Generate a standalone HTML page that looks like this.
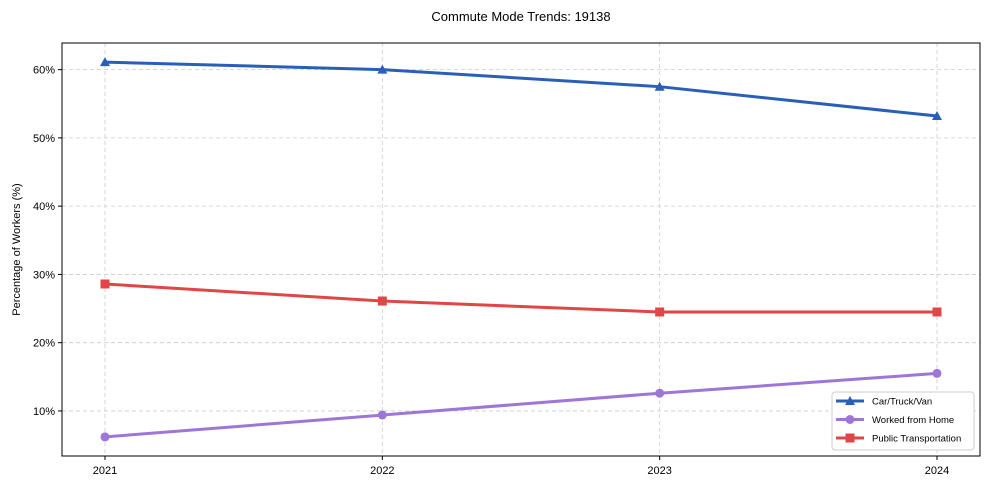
<!DOCTYPE html>
<html><head><meta charset="utf-8"><style>
body{margin:0;background:#fff;}
svg{display:block;font-family:"Liberation Sans",Arial,sans-serif;}
</style></head><body>
<svg id="chart" width="990" height="490"></svg>
<script>
const years=["2021","2022","2023","2024"];
const carVals=[61.1,60.0,57.5,53.2];
const wfhVals=[6.2,9.4,12.6,15.5];
const ptVals=[28.6,26.1,24.5,24.5];
const yTicks=[10,20,30,40,50,60];
const seriesNames=["Car/Truck/Van","Worked from Home","Public Transportation"];

const NS="http://www.w3.org/2000/svg";
const svg=document.getElementById('chart');
const L=62,R=980,T=43,B=456;
const yMin=3.4,yMax=63.9;
const xPos=i=>105+i*(937-105)/(years.length-1);
const yPos=v=>B-(v-yMin)/(yMax-yMin)*(B-T);
function mk(tag,attrs,parent){const e=document.createElementNS(NS,tag);for(const k in attrs)e.setAttribute(k,attrs[k]);(parent||svg).appendChild(e);return e;}

const title=mk('text',{x:521,y:21,'text-anchor':'middle','font-size':13,fill:'#000'});
title.textContent="Commute Mode Trends: 19138";



const grid=mk('g',{});


yTicks.forEach(t=>{
  const y=yPos(t);
  mk('line',{x1:L,x2:R,y1:y,y2:y,stroke:'#ccc','stroke-dasharray':'4,3','stroke-width':0.8},grid);
  mk('line',{x1:L-4,x2:L,y1:y,y2:y,stroke:'#000'},grid);
  const tx=mk('text',{x:L-7,y:y+4,'text-anchor':'end','font-size':11},grid);
  tx.textContent=t+'%';
  
  
});
years.forEach((yr,i)=>{
  const x=xPos(i);
  mk('line',{x1:x,x2:x,y1:T,y2:B,stroke:'#ccc','stroke-dasharray':'4,3','stroke-width':0.8},grid);
  mk('line',{x1:x,x2:x,y1:B,y2:B+4,stroke:'#000'},grid);
  const tx=mk('text',{x:x,y:B+18,'text-anchor':'middle','font-size':11},grid);
  tx.textContent=yr;
  
  
});
const frame=mk('rect',{x:L,y:T,width:R-L,height:B-T,fill:'none',stroke:'#000','stroke-width':1});


const yl=mk('text',{x:20,y:(T+B)/2,'text-anchor':'middle','font-size':11,transform:`rotate(-90 20 ${(T+B)/2})`});
yl.textContent="Percentage of Workers (%)";



function marker(type,x,y,color,parent){
  if(type==='tri') return mk('polygon',{points:`${x},${y-5} ${x-5},${y+4} ${x+5},${y+4}`,fill:color},parent);
  if(type==='circ') return mk('circle',{cx:x,cy:y,r:4.5,fill:color},parent);
  return mk('rect',{x:x-4.5,y:y-4.5,width:9,height:9,fill:color},parent);
}
const series=[[carVals,'#2a5fb8','tri','car-line'],[wfhVals,'#9e77d6','circ','wfh-line'],[ptVals,'#e04646','sq','pt-line']];
series.forEach(([vals,color,m,name])=>{
  const g=mk('g',{});
  
  
  mk('polyline',{points:vals.map((v,i)=>xPos(i)+','+yPos(v)).join(' '),fill:'none',stroke:color,'stroke-width':3},g);
  vals.forEach((v,i)=>{const p=marker(m,xPos(i),yPos(v),color,g);
    
    });
});

const lg=mk('g',{});


mk('rect',{x:832,y:392,width:142,height:58,rx:3,fill:'#fff',stroke:'#ccc'},lg);
series.forEach(([vals,color,m],i)=>{
  const y=401+i*18.5;
  const e=mk('g',{},lg);
  
  
  mk('line',{x1:836,x2:864,y1:y,y2:y,stroke:color,'stroke-width':3},e);
  marker(m,850,y,color,e);
  const t=mk('text',{x:872,y:y+3.5,'font-size':9.5},e);
  t.textContent=seriesNames[i];
});
</script>
</body></html>
